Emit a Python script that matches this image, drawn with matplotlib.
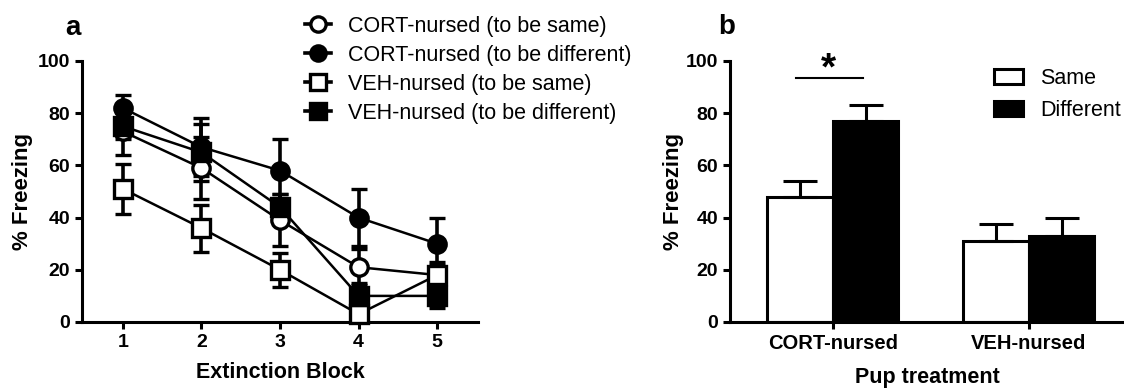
import matplotlib
matplotlib.use("Agg")
import matplotlib.pyplot as plt
from matplotlib.lines import Line2D
from matplotlib.patches import Patch
import numpy as np

plt.rcParams['font.family'] = ['Liberation Sans', 'DejaVu Sans']

# panel a data
blocks = [1, 2, 3, 4, 5]
cort_same = [73, 59, 39, 21, 18]
cort_same_sem = [9, 12, 10, 7, 5]
cort_diff = [82, 67, 58, 40, 30]
cort_diff_sem = [5, 11, 12, 11, 10]
veh_same = [51, 36, 20, 3, 18]
veh_same_sem = [9.5, 9, 6.5, 3, 4]
veh_diff = [75, 65, 44, 10, 10]
veh_diff_sem = [5, 11, 5, 5, 4.5]
series_labels = ['CORT-nursed (to be same)', 'CORT-nursed (to be different)',
                 'VEH-nursed (to be same)', 'VEH-nursed (to be different)']

# panel b data
groups = ['CORT-nursed', 'VEH-nursed']
same_vals = [48, 31]
same_sem = [6, 6.5]
diff_vals = [77, 33]
diff_sem = [6, 7]

fig = plt.figure(figsize=(11.24, 3.88), dpi=100)

# ---- panel a ----
ax = fig.add_axes([82/1124, 66/388, 396/1124, 261/388])
styles = [('o', 'white'), ('o', 'black'), ('s', 'white'), ('s', 'black')]
data = [(cort_same, cort_same_sem), (cort_diff, cort_diff_sem),
        (veh_same, veh_same_sem), (veh_diff, veh_diff_sem)]
handles = []
for (m, fc), (y, e), lab in zip(styles, data, series_labels):
    ax.errorbar(blocks, y, yerr=e, color='black', lw=1.8, marker=m, ms=12.5,
                mfc=fc, mec='black', mew=2.4, capsize=5.5, capthick=2.6,
                elinewidth=2.6, clip_on=False, zorder=3)
    handles.append(Line2D([0], [0], color='black', lw=2.6, marker=m, ms=11,
                          mfc=fc, mec='black', mew=2.4))

ax.set_xlim(0.48, 5.52)
ax.set_ylim(0, 100)
ax.set_yticks([0, 20, 40, 60, 80, 100])
ax.set_xticks(blocks)
ax.set_xlabel('Extinction Block', fontsize=15.5, fontweight='bold', labelpad=8)
ax.set_ylabel('% Freezing', fontsize=16, fontweight='bold')
ax.yaxis.set_label_coords(-49/396, 0.5)
for s in ['top', 'right']:
    ax.spines[s].set_visible(False)
for s in ['left', 'bottom']:
    ax.spines[s].set_linewidth(2.2)
ax.tick_params(width=2.2, length=5, labelsize=14)
for t in ax.get_xticklabels() + ax.get_yticklabels():
    t.set_fontweight('bold')
fig.text(65/1124, 1 - 28/388, 'a', fontsize=20, fontweight='bold', va='center')

fig.legend(handles, series_labels, loc='upper left',
           bbox_to_anchor=(305/1124, 372/388), frameon=False, fontsize=15.5,
           handlelength=1.2, handletextpad=0.8, labelspacing=0.37,
           borderpad=0, borderaxespad=0)

# ---- panel b ----
bx = fig.add_axes([730/1124, 66/388, 394/1124, 261/388])
x = np.arange(len(groups))
w = 0.334
bx.bar(x - w/2, same_vals, w, color='white', edgecolor='black', lw=2.2,
       yerr=[np.zeros(2), same_sem], capsize=12,
       error_kw=dict(elinewidth=2.2, capthick=2.2), zorder=2)
bx.bar(x + w/2, diff_vals, w, color='black', edgecolor='black', lw=2.2,
       yerr=[np.zeros(2), diff_sem], capsize=12,
       error_kw=dict(elinewidth=2.2, capthick=2.2), zorder=2)
bx.set_xlim(-0.524, 1.485)
bx.set_ylim(0, 100)
bx.set_yticks([0, 20, 40, 60, 80, 100])
bx.set_xticks(x)
bx.set_xticklabels(groups)
bx.set_xlabel('Pup treatment', fontsize=15.5, fontweight='bold', labelpad=10)
bx.set_ylabel('% Freezing', fontsize=16, fontweight='bold')
bx.yaxis.set_label_coords(-46/394, 0.5)
for s in ['top', 'right']:
    bx.spines[s].set_visible(False)
for s in ['left', 'bottom']:
    bx.spines[s].set_linewidth(2.2)
bx.tick_params(width=2.2, length=5, labelsize=14)
bx.tick_params(axis='x', labelsize=14.5)
for t in bx.get_xticklabels() + bx.get_yticklabels():
    t.set_fontweight('bold')

# significance marker
bx.plot([-0.19, 0.155], [93.4, 93.4], color='black', lw=1.5)
bx.text(-0.02, 90, '*', fontsize=28, fontweight='bold', ha='center', va='bottom')

bx.legend([Patch(facecolor='white', edgecolor='black', lw=2.2),
           Patch(facecolor='black', edgecolor='black', lw=2.2)],
          ['Same', 'Different'], loc='upper left',
          bbox_to_anchor=(994/1124, 1 - 68/388), bbox_transform=fig.transFigure,
          frameon=False, fontsize=15.5, handlelength=1.35, handleheight=0.7,
          handletextpad=0.8, labelspacing=0.5, borderpad=0, borderaxespad=0)
fig.text(718/1124, 1 - 27/388, 'b', fontsize=20, fontweight='bold', va='center')

fig.savefig('out.png', dpi=100)
